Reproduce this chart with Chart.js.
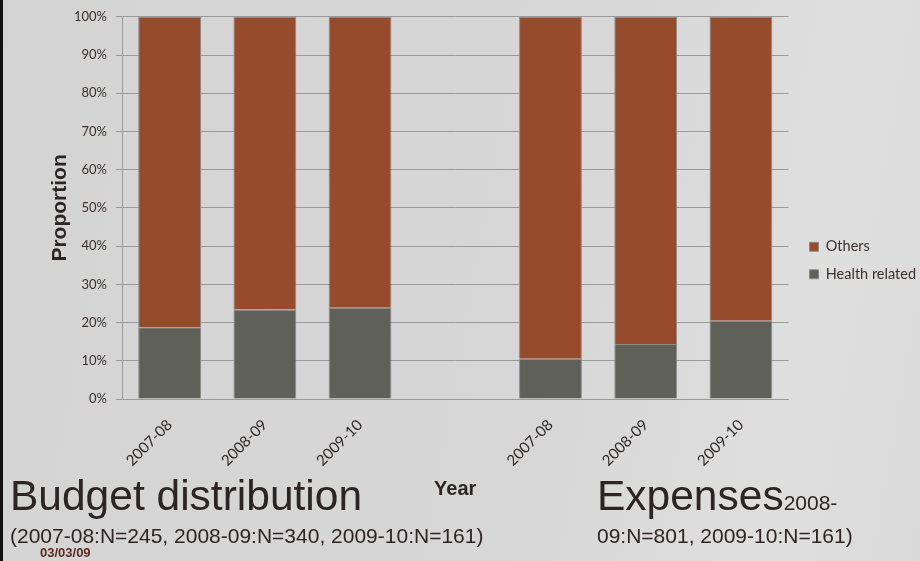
<!DOCTYPE html>
<html>
<head>
<meta charset="utf-8">
<script src="https://cdn.jsdelivr.net/npm/chart.js@4.4.1/dist/chart.umd.min.js"></script>
<style>
    body {
        margin: 0;
    }
    #wrap {
        position: relative;
        width: 920px;
        height: 561px;
        background: linear-gradient(100deg, #d4d4d4 0%, #d7d7d7 60%, #dfdfdf 85%, #dadada 100%);
        overflow: hidden;
        font-family: "Liberation Sans", Arial, sans-serif;
        color: #2d2525;
    }
    #wrap::before {
        content: '';
        position: absolute;
        left: 0;
        top: 0;
        width: 3px;
        height: 561px;
        background: #111;
    }
    canvas {
        position: absolute;
        left: 0;
        top: 0;
    }
    .txt {
        position: absolute;
        white-space: nowrap;
    }
</style>
</head>
<body>
<div id="wrap">
    <canvas id="myBarChart" width="920" height="561"></canvas>
    <div class="txt" style="left:10px; top:475px; font-size:42.5px; line-height:42px;">Budget distribution</div>
    <div class="txt" style="left:10px; top:525px; font-size:21px; line-height:21px;">(2007-08:N=245, 2008-09:N=340, 2009-10:N=161)</div>
    <div class="txt" style="left:40px; top:546px; font-size:13px; line-height:13px; font-weight:bold; color:#5c2a22;">03/03/09</div>
    <div class="txt" style="left:597px; top:475px; font-size:42.5px; line-height:42px;">Expenses<span style="font-size:21px;">2008-</span></div>
    <div class="txt" style="left:597px; top:525px; font-size:21px; line-height:21px;">09:N=801, 2009-10:N=161)</div>
</div>
<script>
// two groups of years, an empty slot between them
const categories = ['2007-08', '2008-09', '2009-10', '', '2007-08', '2008-09', '2009-10'];
const healthRelated = [18.8, 23.4, 23.9, null, 10.5, 14.4, 20.5];
const others = [81.2, 76.6, 76.1, null, 89.5, 85.6, 79.5];
const yTicks = [0, 10, 20, 30, 40, 50, 60, 70, 80, 90, 100];

const gridColor = '#9a9a9a';

// nudge the legend a bit to the right, closer to the slide edge
const legendShift = {
    id: 'legendShift',
    afterLayout(chart) {
        chart.legend.left += 8;
        chart.legend.right += 8;
    }
};

let ctx = document.getElementById('myBarChart').getContext('2d');

let myBarChart = new Chart(ctx, {
    type: 'bar',
    data: {
        labels: categories,
        datasets: [{
            label: 'Health related',
            data: healthRelated,
            backgroundColor: '#60605a',
            borderColor: '#8c8c86',
            borderWidth: 1
        }, {
            label: 'Others',
            data: others,
            backgroundColor: '#964c2c',
            borderColor: '#8c8c86',
            borderWidth: 1
        }]
    },
    options: {
        responsive: false,
        animation: false,
        barPercentage: 0.66,
        categoryPercentage: 1.0,
        layout: {
            padding: { left: 44, right: 2, top: 16, bottom: 56 }
        },
        scales: {
            x: {
                stacked: true,
                grid: { display: false },
                border: { display: true, color: gridColor },
                ticks: {
                    font: { family: 'Lato, "Open Sans", sans-serif', size: 15 },
                    color: '#2d2525',
                    maxRotation: 45,
                    minRotation: 45,
                    padding: 9
                },
                title: {
                    display: true,
                    text: 'Year',
                    color: '#2d2525',
                    font: { family: '"Liberation Sans", Arial, sans-serif', size: 20, weight: 'bold' },
                    padding: { top: 4, bottom: 4 }
                },
                afterFit: function(scale) {
                    scale.height = 106;
                }
            },
            y: {
                stacked: true,
                min: 0,
                max: 100,
                afterBuildTicks: function(scale) {
                    scale.ticks = yTicks.map(v => ({ value: v }));
                },
                grid: {
                    color: gridColor,
                    tickLength: 6,
                    drawTicks: true
                },
                border: { display: true, color: gridColor },
                ticks: {
                    font: { family: 'Lato, "Open Sans", sans-serif', size: 13 },
                    color: '#3a3030',
                    padding: 9,
                    callback: v => v + '%'
                },
                title: {
                    display: true,
                    text: 'Proportion',
                    color: '#2d2525',
                    font: { family: '"Liberation Sans", Arial, sans-serif', size: 21, weight: 'bold' },
                    padding: { top: 4, bottom: 4 }
                },
                afterFit: function(scale) {
                    scale.width = 78;
                }
            }
        },
        plugins: {
            legend: {
                position: 'right',
                reverse: true,
                labels: {
                    boxWidth: 9,
                    boxHeight: 9,
                    padding: 13,
                    color: '#3a3030',
                    font: { family: 'Lato, "Open Sans", sans-serif', size: 14.5 }
                }
            },
            tooltip: { enabled: false }
        }
    },
    plugins: [legendShift]
});
</script>
</body>
</html>
